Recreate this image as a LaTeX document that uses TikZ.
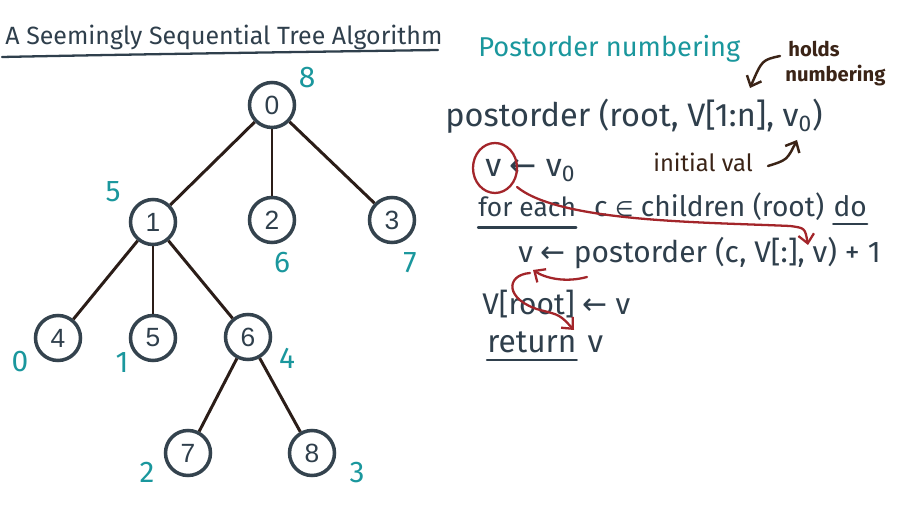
\documentclass[tikz,border=0pt]{standalone}
\usepackage{fontspec}
\setmainfont{Fira Sans}
\newfontfamily\digitfont{Liberation Sans}
\newfontfamily\symfont{DejaVu Sans}
\usetikzlibrary{arrows.meta}
\definecolor{ink}{HTML}{2F3F4C}
\definecolor{tealink}{HTML}{1A979D}
\definecolor{brnink}{HTML}{3B2417}
\definecolor{redink}{HTML}{A3252A}
\definecolor{edgec}{HTML}{2B1D18}
\definecolor{ringc}{HTML}{34434E}
\newcommand{\larr}{{\symfont ←}}
\newcommand{\elem}{{\symfont\fontsize{12}{12}\selectfont ∈}}
\begin{document}
\begin{tikzpicture}[x=0.02cm,y=-0.02cm,
  tnode/.style={circle,draw=ringc,line width=2pt,minimum size=0.9cm,inner sep=0pt,
     font=\digitfont\fontsize{15}{15}\selectfont,text=ink,fill=white},
  edge/.style={draw=edgec,line width=1.7pt},
  num/.style={text=tealink,inner sep=0pt,font=\fontsize{17}{17}\selectfont},
  code/.style={anchor=base west,inner sep=0pt,text=ink},
  note/.style={anchor=base west,inner sep=0pt,text=brnink,font=\fontsize{11.5}{11.5}\selectfont\bfseries},
  uline/.style={draw=ink,line width=1.3pt,line cap=round},
  redarrow/.style={draw=redink,line width=1.3pt,line cap=round,-{Straight Barb[length=5pt,width=9pt]}},
  brnarrow/.style={draw=brnink,line width=1.4pt,line cap=round,-{Straight Barb[length=5pt,width=9pt]}}
]
\fill[white] (0,0) rectangle (909,506);
\useasboundingbox (0,0) rectangle (909,506);

% title
\node[code,font=\fontsize{14.2}{14.2}\selectfont] (title) at (5,45) {A Seemingly Sequential Tree Algorithm};
\draw[uline] (2,57) .. controls (150,54) and (300,52) .. (438,50);

% tree
\node[tnode] (n0) at (272,105) {0};
\node[tnode] (n1) at (153,222) {1};
\node[tnode] (n2) at (272,220) {2};
\node[tnode] (n3) at (392,220) {3};
\node[tnode] (n4) at (58,338) {4};
\node[tnode] (n5) at (153,338) {5};
\node[tnode] (n6) at (248,337) {6};
\node[tnode] (n7) at (188,453) {7};
\node[tnode] (n8) at (312,453) {8};
\draw[edge] (n0) -- (n1);
\draw[edge] (n0) -- (n2);
\draw[edge] (n0) -- (n3);
\draw[edge] (n1) -- (n4);
\draw[edge] (n1) -- (n5);
\draw[edge] (n1) -- (n6);
\draw[edge] (n6) -- (n7);
\draw[edge] (n6) -- (n8);

% postorder numbers
\node[num] (p0) at (307,78) {8};
\node[num] (p1) at (113,192) {5};
\node[num] (p2) at (282,263) {6};
\node[num] (p3) at (410,263) {7};
\node[num] (p4) at (20,362) {0};
\node[num] (p5) at (122,363) {1};
\node[num] (p6) at (287,358) {4};
\node[num] (p7) at (147,472) {2};
\node[num] (p8) at (357,473) {3};

% right side
\node[anchor=base west,inner sep=0pt,text=tealink,font=\fontsize{15.5}{15.5}\selectfont] (head) at (478,57) {Postorder numbering};
\node[note] (holds) at (788,57) {holds};
\node[note] (numb) at (785,82) {numbering};
\coordinate (hA) at (780,56);
\coordinate (hB) at (750,88);
\draw[brnarrow] (hA) .. controls (762,60) .. (hB);

\node[code,font=\fontsize{18.5}{18.5}\selectfont] (sig) at (445,127) {postorder (root, V[1:n], v\textsubscript{0})};
\node[code,font=\fontsize{18.5}{18.5}\selectfont] (init) at (485,177) {v \larr\ v\textsubscript{0}};
\node[note,font=\fontsize{13.5}{13.5}\selectfont] (ival) at (653,172) {initial val};
\coordinate (iA) at (768,166);
\coordinate (iB) at (797,140);
\draw[brnarrow] (iA) .. controls (787,160) .. (iB);

\node[code,font=\fontsize{15}{15}\selectfont] (fe) at (478,217) {for each};
\node[code,font=\fontsize{16}{16}\selectfont] (mid) at ([xshift=10pt]fe.base east) {c \elem\ children (root)};
\node[code,font=\fontsize{16}{16}\selectfont] (do) at ([xshift=5pt]mid.base east) {do};
\draw[uline] ([yshift=-6pt]fe.base west) -- ([yshift=-6pt]fe.base east);
\draw[uline] ([yshift=-4pt]do.base west) -- ([yshift=-4pt]do.base east);
\node[code,font=\fontsize{17}{17}\selectfont] (rec) at (518,263) {v \larr\ postorder (c, V[:], v) + 1};
\node[code,font=\fontsize{17}{17}\selectfont] (asg) at (482,315) {V[root] \larr\ v};
\node[code,font=\fontsize{18}{18}\selectfont] (ret) at (487,353) {return};
\node[code,font=\fontsize{18}{18}\selectfont] (retv) at ([xshift=6pt]ret.base east) {v};
\draw[uline] ([yshift=-4pt]ret.base west) -- ([yshift=-4pt]ret.base east);

% red annotations
\draw[redink,line width=1.3pt] (495,168) ellipse [x radius=22, y radius=25];
\coordinate (rA) at (517,187);
\coordinate (rB) at (790,226);
\coordinate (rC) at (808,245);
\draw[redarrow] (rA) .. controls (560,222) and (700,222) .. (rB) .. controls (805,228) .. (rC);
\coordinate (sA) at (587,277);
\coordinate (sB) at (533,270);
\draw[redarrow] (sA) .. controls (565,283) and (545,278) .. (sB);
\coordinate (tA) at (530,273);
\coordinate (tB) at (574,330);
\draw[redarrow] (tA) .. controls (505,275) and (505,300) .. (540,310) .. controls (560,315) .. (tB);
\end{tikzpicture}
\end{document}
